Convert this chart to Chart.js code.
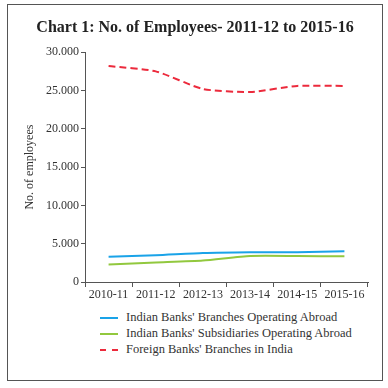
<!DOCTYPE html>
<html>
<head>
<meta charset="utf-8">
<script src="https://cdn.jsdelivr.net/npm/chart.js@4"></script>
<style>
  body { margin: 0; background: #fff; font-family: "Liberation Serif", serif; }
  #frame { position: absolute; left: 7px; top: 4px; width: 374px; height: 375px; border: 1px solid #555; }
  #wrap { position: absolute; left: 0; top: 0; width: 374px; height: 300px; }
  #legend { position: absolute; left: 92px; top: 304px; font-size: 12.5px; color: #333; }
  .item { height: 16px; line-height: 16px; white-space: nowrap; }
  .swatch { display: inline-block; width: 18px; vertical-align: middle; margin-right: 8px; }
</style>
</head>
<body>
<div id="frame">
  <div id="wrap"><canvas id="employeeChart"></canvas></div>
  <div id="legend"></div>
</div>
<script>
// Years along the x-axis
var years = ["2010-11","2011-12","2012-13","2013-14","2014-15","2015-16"];
// Number of employees per year
var branchesAbroad = [3300,3500,3800,3900,3900,4000];
var subsidiariesAbroad = [2300,2550,2800,3400,3400,3350];
var foreignBranches = [28200,27500,25200,24800,25600,25600];

var seriesNames = ["Indian Banks' Branches Operating Abroad","Indian Banks' Subsidiaries Operating Abroad","Foreign Banks' Branches in India"];

var chart = new Chart(document.getElementById("employeeChart"), {
  type: 'line',
  data: {
    labels: years,
    datasets: [
      { label: seriesNames[0], data: branchesAbroad, borderColor: "#1aa3e8", borderWidth: 2, pointRadius: 0, tension: 0.2 },
      { label: seriesNames[1], data: subsidiariesAbroad, borderColor: "#92c83e", borderWidth: 2, pointRadius: 0, tension: 0.2 },
      { label: seriesNames[2], data: foreignBranches, borderColor: "#ec2a3c", borderWidth: 2, borderDash: [7,4], pointRadius: 0, tension: 0.2 }
    ]
  },
  options: {
    responsive: true,
    maintainAspectRatio: false,
    animation: false,
    layout: { padding: { left: 14, right: 14, top: 0, bottom: 0 } },
    plugins: {
      legend: { display: false },
      tooltip: { enabled: false },
      title: {
        display: true,
        text: "Chart 1: No. of Employees- 2011-12 to 2015-16",
        color: "#222",
        font: { family: "Liberation Serif", size: 16, weight: 'bold' },
        padding: { top: 13, bottom: 15 }
      }
    },
    scales: {
      x: {
        offset: true,
        grid: { offset: true, drawOnChartArea: false, tickLength: 5, color: "#555" },
        border: { color: "#555" },
        ticks: { color: "#333", font: { family: "Liberation Serif", size: 12 }, maxRotation: 0, padding: 1 },
        afterFit: function (s) { s.height = 23; }
      },
      y: {
        min: 0,
        max: 30000,
        grid: { drawOnChartArea: false, tickLength: 4, color: "#555" },
        border: { color: "#555" },
        ticks: {
          stepSize: 5000,
          color: "#333",
          padding: 2,
          font: { family: "Liberation Serif", size: 12 },
          callback: function (v) { return v.toLocaleString('de-DE'); }
        },
        title: {
          display: true,
          text: "No. of employees",
          color: "#333",
          font: { family: "Liberation Serif", size: 12 },
          padding: { top: 1, bottom: 0 }
        },
        afterFit: function (s) { s.width = 63; }
      }
    }
  }
});

// Legend stacked vertically, built from the datasets
var legend = document.getElementById("legend");
chart.data.datasets.forEach(function (ds) {
  var row = document.createElement("div");
  row.className = "item";
  var sw = document.createElement("span");
  sw.className = "swatch";
  sw.style.borderTop = "2px " + (ds.borderDash ? "dashed " : "solid ") + ds.borderColor;
  row.appendChild(sw);
  row.appendChild(document.createTextNode(ds.label));
  legend.appendChild(row);
});
</script>
</body>
</html>
